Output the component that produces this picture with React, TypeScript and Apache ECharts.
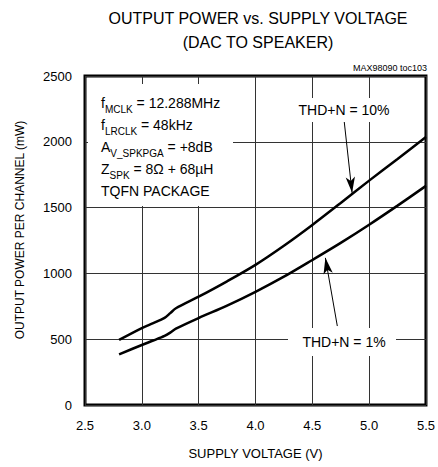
import React, { useEffect, useRef } from "react";
import * as echarts from "echarts";

const xTicks = [2.5, 3.0, 3.5, 4.0, 4.5, 5.0, 5.5];
const yTicks = [0, 500, 1000, 1500, 2000, 2500];

const voltage10 = [2.8, 3.0, 3.1, 3.2, 3.25, 3.3, 3.5, 3.75, 4.0, 4.25, 4.5, 4.75, 5.0, 5.25, 5.5];
const power10 = [495, 585, 622, 662, 698, 735, 823, 940, 1065, 1210, 1368, 1535, 1705, 1870, 2037];

const voltage1 = [2.8, 3.0, 3.1, 3.2, 3.25, 3.3, 3.5, 3.75, 4.0, 4.25, 4.5, 4.75, 5.0, 5.25, 5.5];
const power1 = [385, 456, 490, 525, 550, 580, 661, 755, 860, 975, 1102, 1232, 1370, 1515, 1665];

const arrow10 = [[4.78, 2160], [4.85, 1612]];
const arrow1 = [[4.72, 600], [4.615, 1118]];

const FONT = "'Liberation Sans', Arial, sans-serif";

export default function App() {
  const ref = useRef<HTMLDivElement>(null);
  useEffect(() => {
    document.body.style.margin = "0";
    const chart = echarts.init(ref.current!, null, { renderer: "svg" });
    const pair = (xs: number[], ys: number[]) => xs.map((x, i) => [x, ys[i]]);
    const arrowLine = (pts: number[][]) => ({
      type: "line",
      data: [],
      silent: true,
      markLine: {
        silent: true,
        symbol: ["none", "arrow"],
        symbolSize: [7, 16],
        lineStyle: { color: "#000", width: 1, type: "solid" },
        label: { show: false },
        data: [[{ coord: pts[0] }, { coord: pts[1] }]],
      },
    });
    chart.setOption({
      animation: false,
      textStyle: { fontFamily: FONT },
      grid: {
        left: 85,
        right: 11,
        top: 76,
        bottom: 62,
        show: true,
        borderColor: "#000",
        borderWidth: 3,
        backgroundColor: "#fff",
      },
      xAxis: {
        type: "value",
        min: xTicks[0],
        max: xTicks[xTicks.length - 1],
        interval: 0.5,
        axisLine: { show: false },
        axisTick: { show: false },
        splitLine: { show: true, lineStyle: { color: "#333", width: 1 } },
        axisLabel: {
          color: "#000",
          fontSize: 13,
          margin: 14,
          fontFamily: FONT,
          formatter: (v: number) => v.toFixed(1),
        },
        name: "SUPPLY VOLTAGE (V)",
        nameLocation: "middle",
        nameGap: 42,
        nameTextStyle: { color: "#000", fontSize: 13, fontFamily: FONT },
      },
      yAxis: {
        type: "value",
        min: yTicks[0],
        max: yTicks[yTicks.length - 1],
        interval: 500,
        axisLine: { show: false },
        axisTick: { show: false },
        splitLine: { show: true, lineStyle: { color: "#333", width: 1 } },
        axisLabel: {
          color: "#000",
          fontSize: 13,
          margin: 13,
          fontFamily: FONT,
          formatter: (v: number) => String(v),
        },
      },
      series: [
        {
          type: "line",
          name: "THD+N = 10%",
          data: pair(voltage10, power10),
          smooth: 0.3,
          showSymbol: false,
          lineStyle: { color: "#000", width: 2.5 },
          z: 5,
        },
        {
          type: "line",
          name: "THD+N = 1%",
          data: pair(voltage1, power1),
          smooth: 0.3,
          showSymbol: false,
          lineStyle: { color: "#000", width: 2.5 },
          z: 5,
        },
        arrowLine(arrow10),
        arrowLine(arrow1),
      ],
      graphic: [
        {
          type: "text",
          x: 258,
          y: 18,
          style: {
            text: "OUTPUT POWER vs. SUPPLY VOLTAGE",
            font: `16px ${FONT}`,
            fill: "#000",
            align: "center",
            verticalAlign: "middle",
          },
        },
        {
          type: "text",
          x: 258,
          y: 42,
          style: {
            text: "(DAC TO SPEAKER)",
            font: `16px ${FONT}`,
            fill: "#000",
            align: "center",
            verticalAlign: "middle",
          },
        },
        {
          type: "text",
          x: 20,
          y: 230,
          rotation: Math.PI / 2,
          style: {
            text: "OUTPUT POWER PER CHANNEL (mW)",
            font: `12px ${FONT}`,
            fill: "#000",
            align: "center",
            verticalAlign: "middle",
          },
        },
        {
          type: "text",
          x: 427,
          y: 68,
          style: {
            text: "MAX98090 toc103",
            font: `9px ${FONT}`,
            fill: "#000",
            align: "right",
            verticalAlign: "middle",
          },
        },
        {
          type: "rect",
          z: 50,
          shape: { x: 88, y: 84, width: 145, height: 122 },
          style: { fill: "#fff" },
        },
        {
          type: "text",
          z: 51,
          x: 101,
          y: 92,
          style: {
            text:
              "{n|f}{s|MCLK}{n| = 12.288MHz}\n{n|f}{s|LRCLK}{n| = 48kHz}\n{n|A}{s|V_SPKPGA}{n| = +8dB}\n{n|Z}{s|SPK}{n| = 8Ω + 68µH}\n{n|TQFN PACKAGE}",
            fill: "#000",
            rich: {
              n: { font: `14px ${FONT}`, fill: "#000", lineHeight: 22 },
              s: { font: `10px ${FONT}`, fill: "#000", lineHeight: 22, verticalAlign: "bottom", padding: [6, 0, 0, 0] },
            },
          },
        },
        {
          type: "rect",
          z: 50,
          shape: { x: 296, y: 98, width: 96, height: 24 },
          style: { fill: "#fff" },
        },
        {
          type: "text",
          z: 51,
          x: 344,
          y: 110,
          style: {
            text: "THD+N = 10%",
            font: `14px ${FONT}`,
            fill: "#000",
            align: "center",
            verticalAlign: "middle",
          },
        },
        {
          type: "rect",
          z: 50,
          shape: { x: 288, y: 328, width: 108, height: 28 },
          style: { fill: "#fff" },
        },
        {
          type: "text",
          z: 51,
          x: 344,
          y: 342,
          style: {
            text: "THD+N = 1%",
            font: `14px ${FONT}`,
            fill: "#000",
            align: "center",
            verticalAlign: "middle",
          },
        },
      ],
    });
    return () => chart.dispose();
  }, []);
  return <div ref={ref} style={{ width: 438, height: 467 }} />;
}
